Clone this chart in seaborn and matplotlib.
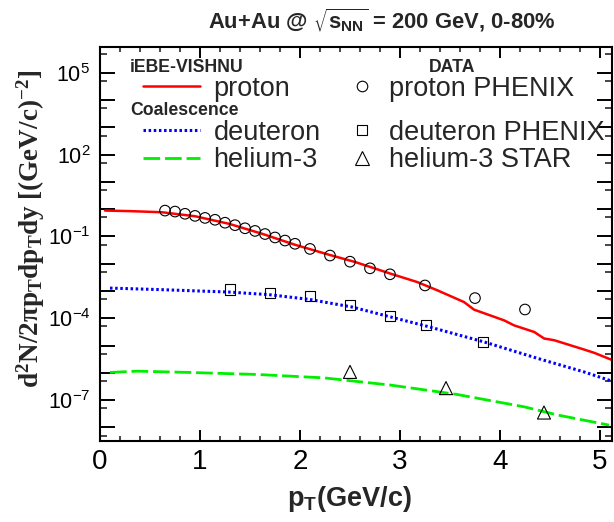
import numpy as np
import pandas as pd
import seaborn as sns
import matplotlib
matplotlib.use("Agg")
import matplotlib.pyplot as plt
from matplotlib.lines import Line2D
from matplotlib.ticker import FixedLocator, MultipleLocator, FuncFormatter, NullFormatter

# hydro + coalescence curves
proton_curve_pt = [0.05, 0.3, 0.62, 0.95, 1.29, 1.62, 1.95, 2.29, 2.555, 2.906, 3.173, 3.374,
                   3.64, 3.74, 4.041, 4.141, 4.342, 4.442, 4.542, 4.843, 4.943, 5.143]
proton_curve = [0.893, 0.851, 0.774, 0.553, 0.292, 0.126, 0.0497, 0.0214, 0.01148, 4.32e-3,
                2.13e-3, 1.06e-3, 3.94e-4, 2.08e-4, 8.4e-5, 5.5e-5, 3.15e-5, 1.81e-5, 1.57e-5,
                7.1e-6, 5.4e-6, 2.74e-6]

deut_curve_pt = [0.10, 0.62, 1.29, 1.69, 2.09, 2.52, 2.84, 3.27, 3.84, 4.38, 4.84, 5.14]
deut_curve = [1.28e-3, 1.12e-3, 9.16e-4, 7.36e-4, 4.95e-4, 2.59e-4, 1.29e-4, 5.09e-5,
              1.36e-5, 3.35e-6, 1.08e-6, 4.67e-7]

he3_curve_pt = [0.10, 0.37, 0.90, 1.57, 2.24, 2.91, 3.57, 4.24, 4.58, 5.09]
he3_curve = [1.03e-6, 1.15e-6, 1.03e-6, 8.7e-7, 6.53e-7, 3.53e-7, 1.61e-7, 5.68e-8,
             2.82e-8, 1.21e-8]

# measurements
proton_pt = [0.65, 0.75, 0.85, 0.95, 1.05, 1.15, 1.25, 1.35, 1.45, 1.55, 1.65, 1.75, 1.85,
             1.95, 2.1, 2.3, 2.5, 2.7, 2.9, 3.25, 3.75, 4.25]
proton_y = [0.89, 0.82, 0.68, 0.57, 0.48, 0.41, 0.32, 0.26, 0.20, 0.16, 0.123, 0.092, 0.071,
            0.054, 0.035, 0.020, 0.0119, 0.0068, 0.0041, 0.0016, 5.5e-4, 2.1e-4]

deut_pt = [1.3, 1.7, 2.1, 2.5, 2.9, 3.26, 3.83]
deut_y = [1.15e-3, 8.7e-4, 6.4e-4, 3.1e-4, 1.18e-4, 5.7e-5, 1.32e-5]

he3_pt = [2.5, 3.46, 4.44]
he3_y = [1.08e-6, 2.75e-7, 3.5e-8]

sns.set_theme(style="ticks")
plt.rcParams['font.family'] = ['Liberation Sans', 'DejaVu Sans']
plt.rcParams['mathtext.default'] = 'regular'
plt.rcParams['lines.scale_dashes'] = False

fig = plt.figure(figsize=(6.14, 5.22), dpi=100)
ax = fig.add_axes([0.1629, 0.1552, 0.8338, 0.7548])
ax.set_yscale('log')

sns.lineplot(x=proton_curve_pt, y=proton_curve, color='#ff0000', linewidth=1.8, ax=ax,
             label='proton', legend=False)
l_p = ax.lines[-1]
sns.lineplot(x=deut_curve_pt, y=deut_curve, color='#0000ff', linewidth=2.2, ax=ax,
             label='deuteron', legend=False)
l_d = ax.lines[-1]
l_d.set_dashes((1.8, 1.9))
sns.lineplot(x=he3_curve_pt, y=he3_curve, color='#00ee00', linewidth=2.0, ax=ax,
             label='helium-3', legend=False)
l_h = ax.lines[-1]
l_h.set_dashes((12, 3.5))

sns.scatterplot(x=proton_pt, y=proton_y, marker='o', s=7.6**2, facecolors='none',
                edgecolor='black', linewidth=0.8, ax=ax, zorder=5, legend=False)
sns.scatterplot(x=deut_pt, y=deut_y, marker='s', s=7.4**2, facecolors='none',
                edgecolor='black', linewidth=0.8, ax=ax, zorder=5, legend=False)
sns.scatterplot(x=he3_pt, y=he3_y, marker='^', s=9.4**2, facecolors='none',
                edgecolor='black', linewidth=0.8, ax=ax, zorder=5, legend=False)

ax.set_xlim(0, 5.12)
ax.set_ylim(10**-8.5, 10**5.95)

# axes styling
for s in ax.spines.values():
    s.set_linewidth(1.5)
    s.set_color('black')
ax.xaxis.set_major_locator(MultipleLocator(1))
ax.xaxis.set_minor_locator(MultipleLocator(0.2))
ax.yaxis.set_major_locator(FixedLocator([10.0**e for e in range(-9, 7)]))
ax.yaxis.set_minor_locator(FixedLocator([5 * 10.0**e for e in range(-9, 6)]))
ax.yaxis.set_minor_formatter(NullFormatter())


def ylab(v, pos):
    e = int(round(np.log10(v)))
    if (e + 7) % 3 == 0:
        return rf"$10^{{{e}}}$"
    return ""


ax.yaxis.set_major_formatter(FuncFormatter(ylab))
ax.tick_params(axis='x', which='major', direction='in', length=8, width=1.4,
               top=True, bottom=True, labelsize=20, pad=6, colors='black')
ax.tick_params(axis='x', which='minor', direction='in', length=3.5, width=1.2,
               top=True, bottom=True)
ax.tick_params(axis='y', which='major', direction='in', length=11, width=1.4,
               left=True, right=True, labelsize=15.5, pad=7, colors='black')
ax.tick_params(axis='y', which='minor', direction='in', length=5, width=1.2,
               left=True, right=True)

ax.set_xlabel(r"p$_T$(GeV/c)", fontsize=19.5, fontweight='bold')
ax.xaxis.set_label_coords(0.488, -0.108)
ax.set_ylabel("d$^2$N/2πp$_T$dp$_T$dy [(GeV/c)$^{-2}$]", fontsize=19.5, fontweight='bold',
              family=['Liberation Serif', 'DejaVu Serif'])
ax.yaxis.set_label_coords(-0.103, 0.538)

fig.text(0.622, 0.962, r"Au+Au @ $\sqrt{s_{NN}}$ = 200 GeV, 0-80%", fontsize=15.8,
         fontweight='bold', ha='center', va='center')

# legend block: section headers
ax.text(0.0586, 0.949, "iEBE-VISHNU", transform=ax.transAxes, fontsize=12.7,
        fontweight='bold', va='center', ha='left')
ax.text(0.0586, 0.840, "Coalescence", transform=ax.transAxes, fontsize=12.7,
        fontweight='bold', va='center', ha='left')
ax.text(0.6875, 0.949, "DATA", transform=ax.transAxes, fontsize=12.7,
        fontweight='bold', va='center', ha='center')

mk = dict(linestyle='none', markerfacecolor='none', markeredgecolor='black', markeredgewidth=0.8)
h_p = Line2D([], [], marker='o', markersize=7.6, label='proton PHENIX', **mk)
h_d = Line2D([], [], marker='s', markersize=7.4, label='deuteron PHENIX', **mk)
h_h = Line2D([], [], marker='^', markersize=9.4, label='helium-3 STAR', **mk)

leg_kw = dict(frameon=False, fontsize=19.5, borderpad=0, borderaxespad=0,
              handlelength=2.1, handletextpad=0.5, loc='center left')
leg_kw2 = dict(leg_kw, handlelength=0.9, handletextpad=0.55)
rows_y = [0.894, 0.782, 0.713]
entries = [(l_p, 0.084, rows_y[0], leg_kw), (l_d, 0.084, rows_y[1], leg_kw),
           (l_h, 0.084, rows_y[2], leg_kw), (h_p, 0.488, rows_y[0], leg_kw2),
           (h_d, 0.488, rows_y[1], leg_kw2), (h_h, 0.488, rows_y[2], leg_kw2)]
legs = []
for h, lx, ly, kw in entries:
    legs.append(ax.legend(handles=[h], bbox_to_anchor=(lx, ly), **kw))
# keep each legend exactly once
ax.legend_ = None
for leg in legs:
    ax.add_artist(leg)

fig.savefig('out.png', dpi=100)
